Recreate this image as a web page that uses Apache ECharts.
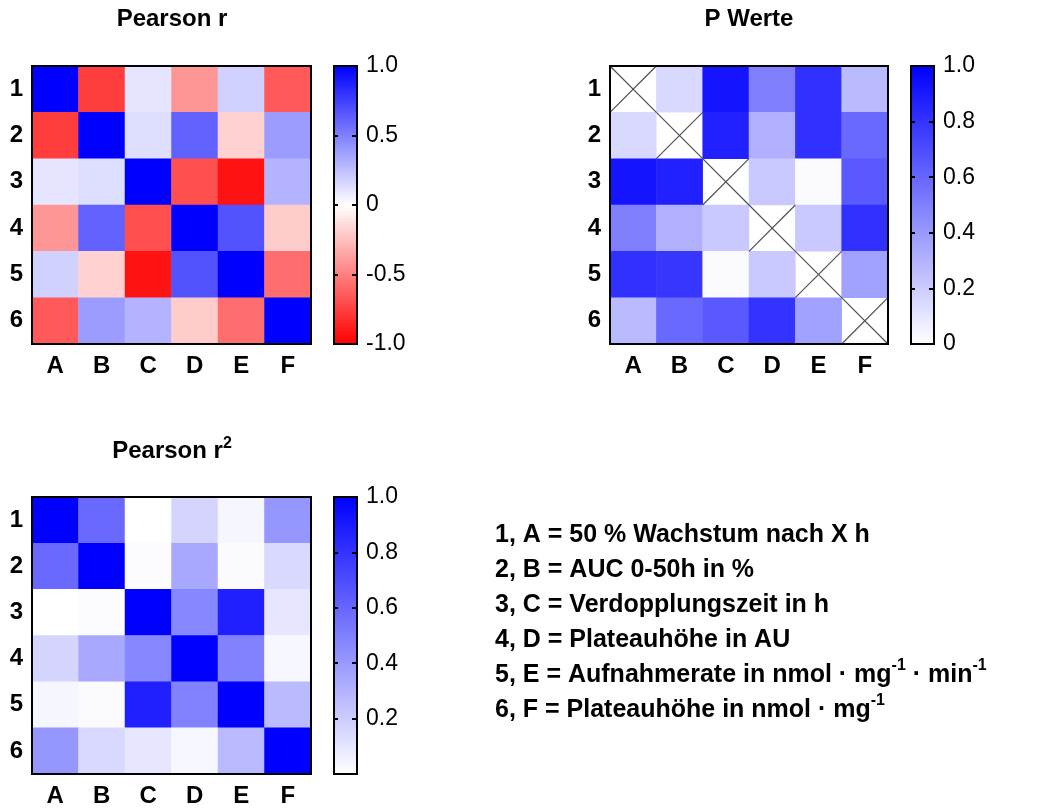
<!DOCTYPE html>
<html>
<head>
<meta charset="utf-8">
<script src="https://cdn.jsdelivr.net/npm/echarts@6/dist/echarts.min.js"></script>
<style>
html,body{margin:0;padding:0;background:#fff;}
#chart{width:1061px;height:809px;}
</style>
</head>
<body>
<div id="chart"></div>
<script>
// ---- data ----
const rowLabels = ['1', '2', '3', '4', '5', '6'];
const colLabels = ['A', 'B', 'C', 'D', 'E', 'F'];

// Pearson r (rows 1..6, columns A..F)
const pearsonR = [
  [ 1.00, -0.76,  0.10, -0.41,  0.18, -0.65],
  [-0.76,  1.00,  0.13,  0.62, -0.18,  0.39],
  [ 0.10,  0.13,  1.00, -0.69, -0.93,  0.30],
  [-0.41,  0.62, -0.69,  1.00,  0.68, -0.20],
  [ 0.18, -0.18, -0.93,  0.68,  1.00, -0.57],
  [-0.65,  0.39,  0.30, -0.20, -0.57,  1.00]
];

// P Werte (diagonal not defined -> crossed cell)
const pValues = [
  [null, 0.15, 0.92, 0.50, 0.81, 0.27],
  [0.15, null, 0.87, 0.31, 0.81, 0.59],
  [0.92, 0.87, null, 0.21, 0.02, 0.65],
  [0.50, 0.31, 0.21, null, 0.21, 0.81],
  [0.81, 0.79, 0.02, 0.21, null, 0.37],
  [0.27, 0.59, 0.65, 0.80, 0.37, null]
];

// Pearson r^2
const pearsonR2 = [
  [1.00, 0.59, 0.00, 0.17, 0.035, 0.41],
  [0.59, 1.00, 0.01, 0.34, 0.02, 0.15],
  [0.00, 0.01, 1.00, 0.47, 0.88, 0.10],
  [0.17, 0.34, 0.47, 1.00, 0.49, 0.03],
  [0.035, 0.02, 0.88, 0.49, 1.00, 0.27],
  [0.41, 0.15, 0.10, 0.03, 0.27, 1.00]
];

// colour bar scales (min, max, tick step)
const scaleR = [-1.0, 1.0, 0.5];
const scaleP = [0, 1.0, 0.2];
const scaleR2 = [0, 1.0, 0.2];

const legendLines = [
  '1, A = 50 % Wachstum nach X h',
  '2, B = AUC 0-50h in %',
  '3, C = Verdopplungszeit in h',
  '4, D = Plateauhöhe in AU',
  '5, E = Aufnahmerate in nmol · mg{sup|-1} · min{sup|-1}',
  '6, F = Plateauhöhe in nmol · mg{sup|-1}'
];

// ---- build ----
const FONT = '"Liberation Sans", Arial, Helvetica, sans-serif';

function toCells(m) {
  const out = [];
  m.forEach((row, r) => row.forEach((v, c) => {
    out.push([c, r, v === null ? '-' : v]);
  }));
  return out;
}
function nullCells(m) {
  const out = [];
  m.forEach((row, r) => row.forEach((v, c) => { if (v === null) out.push([c, r]); }));
  return out;
}

const heatGrids = [
  {left: 32, top: 66, width: 279, height: 278},
  {left: 610, top: 66, width: 278, height: 278},
  {left: 32, top: 497, width: 279, height: 277}
];
const barGrids = [
  {left: 334, top: 66, width: 23, height: 278},
  {left: 911, top: 66, width: 23, height: 278},
  {left: 334, top: 497, width: 23, height: 277}
];

const grids = [];
heatGrids.forEach(g => grids.push(Object.assign({show: true, borderColor: '#000', borderWidth: 2, backgroundColor: 'transparent', z: 5}, g)));
barGrids.forEach(g => grids.push(Object.assign({show: true, borderColor: '#000', borderWidth: 2, backgroundColor: 'transparent', z: 10}, g)));

const xAxes = [], yAxes = [];
for (let i = 0; i < 3; i++) {
  xAxes.push({
    type: 'category', gridIndex: i, data: colLabels, position: 'bottom',
    axisLine: {onZero: false, lineStyle: {color: '#000', width: 2}},
    axisTick: {alignWithLabel: true, length: 6, lineStyle: {color: '#000', width: 2}},
    axisLabel: {color: '#000', fontSize: 24, fontWeight: 'bold', fontFamily: FONT, margin: 10},
    splitLine: {show: false}, splitArea: {show: false}
  });
  yAxes.push({
    type: 'category', gridIndex: i, data: rowLabels, inverse: true, position: 'left',
    axisLine: {onZero: false, lineStyle: {color: '#000', width: 2}},
    axisTick: {alignWithLabel: true, length: 6, lineStyle: {color: '#000', width: 2}},
    axisLabel: {color: '#000', fontSize: 24, fontWeight: 'bold', fontFamily: FONT, margin: 9},
    splitLine: {show: false}, splitArea: {show: false}
  });
}
const barDefs = [
  {s: scaleR, showMin: true},
  {s: scaleP, showMin: true},
  {s: scaleR2, showMin: false}
];
barDefs.forEach((b, k) => {
  const gi = 3 + k;
  xAxes.push({type: 'value', gridIndex: gi, min: 0, max: 1, show: false});
  yAxes.push({
    type: 'value', gridIndex: gi, position: 'right', min: b.s[0], max: b.s[1], interval: b.s[2], z: 10,
    axisLine: {show: false, onZero: false},
    axisTick: {show: true, inside: true, length: 5, lineStyle: {color: '#000', width: 2}},
    splitLine: {show: false},
    axisLabel: {
      color: '#000', fontSize: 23, fontFamily: FONT, margin: 9, showMinLabel: b.showMin,
      formatter: v => (Math.abs(v) < 1e-9 ? '0' : v.toFixed(1))
    }
  });
  yAxes.push({
    type: 'value', gridIndex: gi, position: 'left', min: b.s[0], max: b.s[1], interval: b.s[2], z: 10,
    axisLine: {show: false, onZero: false},
    axisTick: {show: true, inside: true, length: 4, lineStyle: {color: '#000', width: 2}},
    splitLine: {show: false}, axisLabel: {show: false}
  });
});

const visualMaps = [
  {seriesIndex: 0, min: scaleR[0], max: scaleR[1], inRange: {color: ['#ff0000', '#ffffff', '#0000ff']}},
  {seriesIndex: 1, min: scaleP[0], max: scaleP[1], inRange: {color: ['#ffffff', '#0000ff']}},
  {seriesIndex: 2, min: scaleR2[0], max: scaleR2[1], inRange: {color: ['#ffffff', '#0000ff']}}
].map((v, i) => Object.assign({
  type: 'continuous', orient: 'vertical', calculable: false, hoverLink: false,
  text: null, showLabel: false, padding: 0,
  itemWidth: barGrids[i].width, itemHeight: barGrids[i].height,
  left: barGrids[i].left, top: barGrids[i].top, z: 1
}, v));

const heatSeries = [pearsonR, pValues, pearsonR2].map((m, i) => ({
  type: 'heatmap', xAxisIndex: i, yAxisIndex: i, data: toCells(m), z: 2,
  itemStyle: {borderWidth: 0}, emphasis: {disabled: true}, silent: true
}));

const crossSeries = {
  type: 'custom', xAxisIndex: 1, yAxisIndex: 1, data: nullCells(pValues), z: 3, silent: true,
  renderItem: function (params, api) {
    const c = api.coord([api.value(0), api.value(1)]);
    const s = api.size([1, 1]);
    const x0 = c[0] - s[0] / 2, x1 = c[0] + s[0] / 2;
    const y0 = c[1] - s[1] / 2, y1 = c[1] + s[1] / 2;
    const st = {stroke: '#505050', lineWidth: 1.2};
    return {type: 'group', children: [
      {type: 'line', shape: {x1: x0, y1: y0, x2: x1, y2: y1}, style: st},
      {type: 'line', shape: {x1: x0, y1: y1, x2: x1, y2: y0}, style: st}
    ]};
  }
};

const titleBase = {padding: 0, textAlign: 'center'};
const titleStyle = {color: '#000', fontSize: 24, fontWeight: 'bold', fontFamily: FONT, lineHeight: 30};
const titles = [
  Object.assign({text: 'Pearson r', left: 172, top: 4, textStyle: titleStyle}, titleBase),
  Object.assign({text: 'P Werte', left: 749, top: 4, textStyle: titleStyle}, titleBase),
  Object.assign({text: 'Pearson r{sup|2}', left: 172, top: 436, textStyle: Object.assign({}, titleStyle, {
    rich: {sup: {fontSize: 16, fontWeight: 'bold', fontFamily: FONT, color: '#000', lineHeight: 10, verticalAlign: 'top'}}
  })}, titleBase),
  {
    text: legendLines.join('\n'), left: 495, top: 518, padding: 0,
    textStyle: {
      color: '#000', fontSize: 25, fontWeight: 'bold', fontFamily: FONT, lineHeight: 35,
      rich: {sup: {fontSize: 16, fontWeight: 'bold', fontFamily: FONT, color: '#000', lineHeight: 11, verticalAlign: 'top'}}
    }
  }
];

const chart = echarts.init(document.getElementById('chart'), null, {renderer: 'canvas'});
chart.setOption({
  backgroundColor: '#ffffff',
  animation: false,
  title: titles,
  grid: grids,
  xAxis: xAxes,
  yAxis: yAxes,
  visualMap: visualMaps,
  series: heatSeries.concat([crossSeries])
});
</script>
</body>
</html>
